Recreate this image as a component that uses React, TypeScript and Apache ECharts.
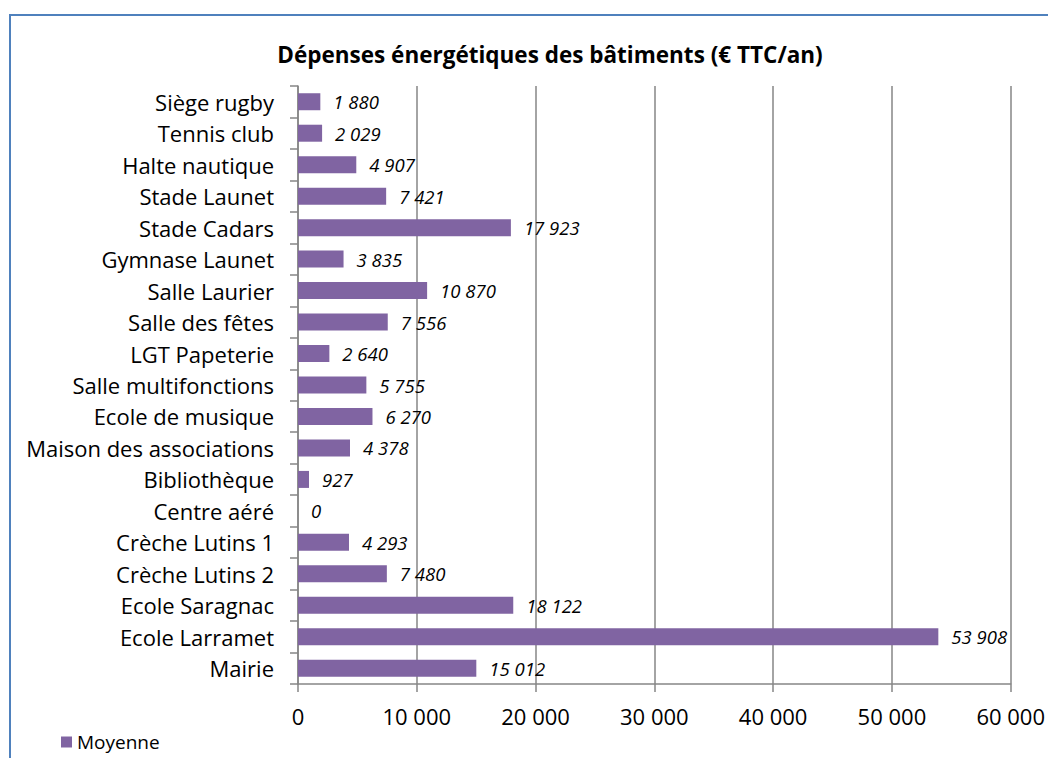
import React, { useEffect, useRef } from "react";
import * as echarts from "echarts";

const categories = [
  "Mairie",
  "Ecole Larramet",
  "Ecole Saragnac",
  "Crèche Lutins 2",
  "Crèche Lutins 1",
  "Centre aéré",
  "Bibliothèque",
  "Maison des associations",
  "Ecole de musique",
  "Salle multifonctions",
  "LGT Papeterie",
  "Salle des fêtes",
  "Salle Laurier",
  "Gymnase Launet",
  "Stade Cadars",
  "Stade Launet",
  "Halte nautique",
  "Tennis club",
  "Siège rugby",
];
const values = [15012, 53908, 18122, 7480, 4293, 0, 927, 4378, 6270, 5755, 2640, 7556, 10870, 3835, 17923, 7421, 4907, 2029, 1880];
const seriesName = "Moyenne";
const title = "Dépenses énergétiques des bâtiments (€ TTC/an)";

const fmt = (v: number) => String(Math.round(v)).replace(/\B(?=(\d{3})+(?!\d))/g, " ");
const FONT = "'Open Sans', sans-serif";

export default function App() {
  const ref = useRef<HTMLDivElement>(null);
  useEffect(() => {
    if (!ref.current) return;
    const chart = echarts.init(ref.current, null, { renderer: "svg" });
    chart.setOption({
      animation: false,
      backgroundColor: "#ffffff",
      textStyle: { fontFamily: FONT },
      title: {
        text: title,
        left: 545,
        top: 38,
        textAlign: "center",
        textStyle: { fontSize: 22.5, fontWeight: "bold", color: "#000", fontFamily: FONT },
      },
      graphic: [
        {
          type: "rect",
          shape: { x: 10, y: 15, width: 1100, height: 800 },
          style: { fill: "none", stroke: "#4F81BD", lineWidth: 2 },
          silent: true,
        },
      ],
      legend: {
        left: 61,
        top: 731,
        padding: 0,
        itemWidth: 11,
        itemHeight: 11,
        itemGap: 7,
        textStyle: { fontSize: 19, color: "#000", fontFamily: FONT, lineHeight: 22 },
        data: [{ name: seriesName, icon: "rect" }],
      },
      grid: { left: 298, right: 35, top: 86, bottom: 74, containLabel: false },
      xAxis: {
        type: "value",
        min: 0,
        max: 60000,
        interval: 10000,
        axisLine: { show: true, lineStyle: { color: "#868686", width: 1.5 } },
        axisTick: { show: true, length: 8, lineStyle: { color: "#868686", width: 1.5 } },
        splitLine: { show: true, lineStyle: { color: "#868686", width: 1.5 } },
        axisLabel: {
          fontSize: 22,
          color: "#000",
          margin: 21,
          fontFamily: FONT,
          formatter: (v: number) => fmt(v),
        },
      },
      yAxis: {
        type: "category",
        data: categories,
        axisLine: { show: true, lineStyle: { color: "#868686", width: 1.5 } },
        axisTick: { show: true, length: 8, lineStyle: { color: "#868686", width: 1.5 } },
        axisLabel: { fontSize: 22, color: "#000", margin: 24, fontFamily: FONT },
      },
      series: [
        {
          name: seriesName,
          type: "bar",
          data: values,
          barWidth: 17,
          itemStyle: { color: "#8064A2" },
          label: {
            show: true,
            position: "right",
            distance: 13,
            fontSize: 18.5,
            fontStyle: "italic",
            color: "#000",
            fontFamily: FONT,
            formatter: (p: any) => fmt(p.value),
          },
        },
      ],
    });
    return () => chart.dispose();
  }, []);
  return (
    <div
      ref={ref}
      style={{ position: "absolute", left: 0, top: 0, width: 1048, height: 758 }}
    />
  );
}
